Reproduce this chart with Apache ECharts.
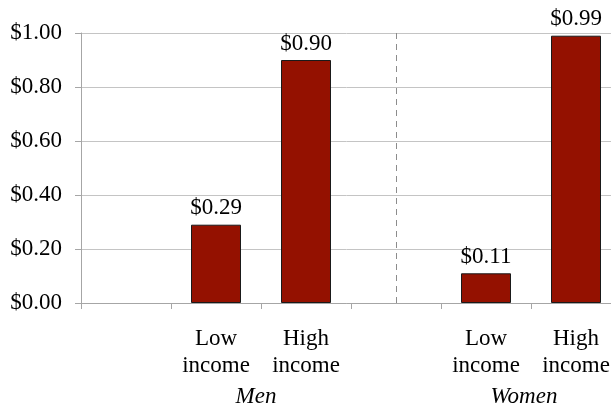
<!DOCTYPE html>
<html>
<head>
<meta charset="utf-8">
<script src="https://cdn.jsdelivr.net/npm/echarts@6/dist/echarts.min.js"></script>
<style>
  html, body { margin: 0; padding: 0; background: #fff; }
  #chart { width: 611px; height: 408px; }
</style>
</head>
<body>
<div id="chart"></div>
<script>
// ---- data ----
const categories = ['', 'Low\nincome', 'High\nincome', '', 'Low\nincome', 'High\nincome'];
const values = [null, 0.29, 0.90, null, 0.11, 0.99];
const groups = ['Men', 'Women'];
const dividerAfterCategory = 3; // index of the empty slot between the groups
const yTicks = [0, 0.2, 0.4, 0.6, 0.8, 1.0];

const FONT = "'Liberation Serif', 'Times New Roman', serif";
const FS = 23;
const catIds = categories.map((c, i) => String(i));

const chart = echarts.init(document.getElementById('chart'), null, { renderer: 'canvas' });

const option = {
  animation: false,
  backgroundColor: '#fff',
  grid: { left: 81, width: 540, top: 33, bottom: 105, containLabel: false, outerBoundsMode: 'none' },
  xAxis: {
    type: 'category',
    data: catIds,
    boundaryGap: true,
    axisLine: { show: true, lineStyle: { color: '#a6a6a6', width: 1 } },
    axisTick: { show: true, length: 6, interval: 0, lineStyle: { color: '#a6a6a6' } },
    axisLabel: {
      interval: 0,
      margin: 22,
      fontFamily: FONT,
      fontSize: FS,
      lineHeight: 27,
      color: '#000',
      formatter: (v, i) => categories[i]
    },
    splitLine: { show: false }
  },
  yAxis: {
    type: 'value',
    min: yTicks[0],
    max: yTicks[yTicks.length - 1],
    interval: 0.2,
    axisLine: { show: true, lineStyle: { color: '#a6a6a6', width: 1 } },
    axisTick: { show: true, length: 6, lineStyle: { color: '#a6a6a6' } },
    axisLabel: {
      margin: 19,
      fontFamily: FONT,
      fontSize: FS,
      color: '#000',
      formatter: v => '$' + v.toFixed(2)
    },
    splitLine: { show: true, lineStyle: { color: '#c4c4c4', width: 1 } }
  },
  series: [{
    type: 'bar',
    data: values,
    barWidth: 50,
    itemStyle: { color: '#941100', borderColor: '#1a1a1a', borderWidth: 1 },
    label: {
      show: true,
      position: 'top',
      distance: 5,
      fontFamily: FONT,
      fontSize: FS,
      color: '#000',
      formatter: p => '$' + p.value.toFixed(2)
    },
    markLine: {
      silent: true,
      symbol: ['none', 'none'],
      label: { show: false },
      lineStyle: { color: '#8c8c8c', type: [6, 5], width: 1 },
      data: [{ xAxis: catIds[dividerAfterCategory] }]
    }
  }],
  graphic: [
    { type: 'text', x: 256, y: 385, style: { text: groups[0], font: 'italic ' + FS + 'px ' + FONT, fill: '#000', textAlign: 'center', textVerticalAlign: 'top' } },
    { type: 'text', x: 524, y: 385, style: { text: groups[1], font: 'italic ' + FS + 'px ' + FONT, fill: '#000', textAlign: 'center', textVerticalAlign: 'top' } }
  ]
};
chart.setOption(option);
</script>
</body>
</html>
